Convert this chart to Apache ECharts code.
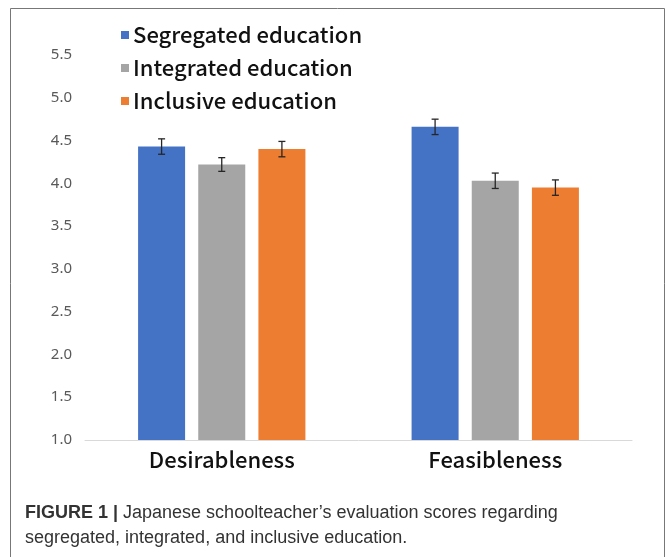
<!DOCTYPE html>
<html>
<head>
<meta charset="utf-8">
<script src="https://cdn.jsdelivr.net/npm/echarts@6/dist/echarts.min.js"></script>
<style>html,body{margin:0;padding:0;background:#fff;}#c{width:667px;height:557px;}</style>
</head>
<body>
<div id="c"></div>
<script>
var categories = ['Desirableness', 'Feasibleness'];
var seriesNames = ['Segregated education', 'Integrated education', 'Inclusive education'];
var segregated = [4.43, 4.66];
var integrated = [4.22, 4.03];
var inclusive = [4.40, 3.95];
var segregatedErr = [0.09, 0.09];
var integratedErr = [0.08, 0.09];
var inclusiveErr = [0.09, 0.09];
var yTicks = ['1.0','1.5','2.0','2.5','3.0','3.5','4.0','4.5','5.0','5.5'];
var colors = ['#4472C4', '#A5A5A5', '#ED7D31'];

var values = [segregated, integrated, inclusive];
var errs = [segregatedErr, integratedErr, inclusiveErr];
var BAR_W = 47, GAP = 0.28;

function errSeries(idx) {
  var data = categories.map(function (c, i) { return [i, values[idx][i], errs[idx][i]]; });
  return {
    type: 'custom',
    name: seriesNames[idx] + ' err',
    data: data,
    z: 10,
    silent: true,
    renderItem: function (params, api) {
      var ci = api.value(0), v = api.value(1), e = api.value(2);
      var total = 3 * BAR_W + 2 * BAR_W * GAP;
      var off = -total / 2 + idx * BAR_W * (1 + GAP) + BAR_W / 2;
      var hi = api.coord([ci, v + e]);
      var lo = api.coord([ci, v - e]);
      var x = hi[0] + off;
      var cap = 3.5;
      var st = { stroke: '#262626', lineWidth: 1.3 };
      return {
        type: 'group',
        children: [
          { type: 'line', shape: { x1: x, y1: hi[1], x2: x, y2: lo[1] }, style: st },
          { type: 'line', shape: { x1: x - cap, y1: hi[1], x2: x + cap, y2: hi[1] }, style: st },
          { type: 'line', shape: { x1: x - cap, y1: lo[1], x2: x + cap, y2: lo[1] }, style: st }
        ]
      };
    }
  };
}

var series = [];
for (var s = 0; s < 3; s++) {
  series.push({
    type: 'bar',
    name: seriesNames[s],
    data: values[s],
    barWidth: BAR_W,
    barGap: (GAP * 100) + '%',
    itemStyle: { color: colors[s] }
  });
}
for (var s2 = 0; s2 < 3; s2++) series.push(errSeries(s2));

var chart = echarts.init(document.getElementById('c'));
chart.setOption({
  animation: false,
  backgroundColor: '#fff',
  legend: {
    data: seriesNames,
    orient: 'vertical',
    left: 116,
    top: 19,
    icon: 'rect',
    itemWidth: 8,
    itemHeight: 8,
    itemGap: 11,
    textStyle: { fontFamily: 'Noto Sans CJK JP', fontSize: 22, fontWeight: 500, color: '#111', padding: [0, 0, 0, -1] }
  },
  grid: { left: 85, right: 35, top: 55, bottom: 117, containLabel: false },
  xAxis: {
    type: 'category',
    data: categories,
    axisLine: { lineStyle: { color: '#d9d9d9', width: 1 } },
    axisTick: { show: false },
    axisLabel: { fontFamily: 'Noto Sans CJK JP', fontSize: 22, fontWeight: 500, color: '#111', margin: 9 }
  },
  yAxis: {
    type: 'value',
    min: 1,
    max: 5.5,
    interval: 0.5,
    splitLine: { show: false },
    axisLine: { show: false },
    axisTick: { show: false },
    axisLabel: {
      fontFamily: 'Noto Sans', fontSize: 15, color: '#595959', margin: 13,
      formatter: function (v) { var i = Math.round((v - 1) / 0.5); return yTicks[i]; }
    }
  },
  graphic: [
    { type: 'rect', shape: { x: 10.5, y: 8.5, width: 654, height: 600 }, style: { fill: 'none', stroke: '#777', lineWidth: 1 }, silent: true },
    { type: 'text', left: 25, top: 501, style: {
        text: '{b|FIGURE 1 |} Japanese schoolteacher\u2019s evaluation scores regarding\nsegregated, integrated, and inclusive education.',
        fill: '#333', font: '18px "Liberation Sans"', lineHeight: 25,
        rich: { b: { fontWeight: 'bold', fontSize: 18, fontFamily: 'Liberation Sans', fill: '#333' } }
      } }
  ],
  series: series
});
</script>
</body>
</html>
